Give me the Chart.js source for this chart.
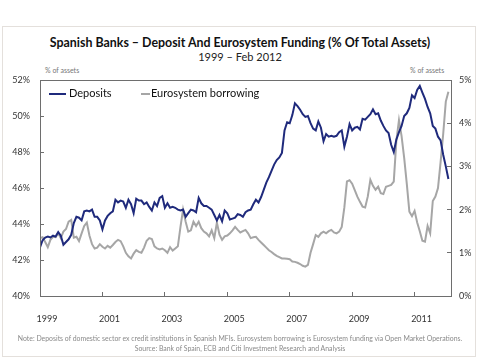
<!DOCTYPE html>
<html>
<head>
<meta charset="utf-8">
<script src="https://cdn.jsdelivr.net/npm/chart.js@4"></script>
<style>
  body { margin: 0; width: 480px; height: 360px; background: #fff; font-family: Lato, "Open Sans", sans-serif; position: relative; overflow: hidden; }
  .panel { position: absolute; left: 2px; top: 26px; width: 474px; height: 331px; border: 1px solid #e4e0dc; box-sizing: border-box; }
  .txt { position: absolute; white-space: nowrap; }
  #title { left: 0; width: 480px; top: 35px; text-align: center; font-weight: bold; font-size: 12.4px; color: #111; }
  #subtitle { left: 0; width: 480px; top: 50px; text-align: center; font-size: 11px; color: #222; }
  .unit { top: 66px; font-size: 7px; color: #777; }
  .legend { top: 86px; font-size: 11px; color: #111; }
  .key { position: absolute; height: 2px; top: 93px; }
  .note { left: 0; width: 480px; text-align: center; font-size: 6.9px; color: #8a8a8a; }
  #wrap { position: absolute; left: 0; top: 0; width: 480px; height: 360px; }
</style>
</head>
<body>
<div class="panel"></div>
<div class="txt" id="title">Spanish Banks – Deposit And Eurosystem Funding (% Of Total Assets)</div>
<div class="txt" id="subtitle">1999 – Feb 2012</div>
<div class="txt unit" style="left:45px">% of assets</div>
<div class="txt unit" style="left:410px">% of assets</div>
<div id="wrap"><canvas id="chart" width="480" height="360"></canvas></div>
<div class="key" style="left:49px;width:17px;background:#1f2a7c"></div>
<div class="txt legend" style="left:69px">Deposits</div>
<div class="key" style="left:141px;width:9px;background:#a6a6a6"></div>
<div class="txt legend" style="left:151px">Eurosystem borrowing</div>
<div class="txt note" style="top:334px">Note: Deposits of domestic sector ex credit institutions in Spanish MFIs. Eurosystem borrowing is Eurosystem funding via Open Market Operations.</div>
<div class="txt note" style="top:344px">Source: Bank of Spain, ECB and Citi Investment Research and Analysis</div>
<script>
// monthly, Jan 1999 .. Feb 2012
const startYear = 1999;
const yearTicks = [1999, 2001, 2003, 2005, 2007, 2009, 2011];
const depositTicks = [40, 42, 44, 46, 48, 50, 52];
const borrowTicks = [0, 1, 2, 3, 4, 5];

// Deposits, % of assets (left axis)
const deposits = [
  42.7, 43.1, 43.25, 43.3, 43.25, 43.35, 43.3, 43.55, 43.35, 42.85, 43.0, 43.15,
  43.4, 44.05, 44.4, 44.35, 44.2, 44.7, 44.75, 44.7, 44.8, 44.4, 44.4, 44.2,
  43.7, 44.2, 44.45, 44.6, 44.7, 45.35, 45.2, 45.3, 45.25, 44.9, 45.35, 45.1,
  44.6, 45.4, 45.3, 45.3, 45.1, 45.2, 44.95, 44.75, 45.2, 45.0, 45.45, 45.55,
  44.9, 45.15, 44.9, 44.95, 44.9, 44.8, 44.75, 44.8, 44.4, 44.6, 44.8, 44.75,
  44.65, 45.45, 45.15, 45.0, 45.0, 44.9, 44.8, 44.5, 44.2, 44.5, 44.15, 44.75,
  44.6, 44.25, 44.3, 44.35, 44.55, 44.5, 44.4, 44.65, 44.75, 44.8, 45.1, 45.35,
  45.2, 45.5, 45.9, 46.3, 46.6, 46.95, 47.3, 47.55, 47.7, 47.95, 49.2, 49.65,
  49.6, 50.05, 50.7, 50.55, 50.35, 50.1, 49.95, 50.0, 49.6, 49.3, 49.2, 49.7,
  49.35, 48.6, 49.0, 48.85, 48.9, 48.85, 48.9, 49.1, 49.2, 48.3, 48.85, 49.55,
  49.2, 49.35, 49.4, 49.25, 49.85, 49.8, 49.95, 50.1, 50.37, 50.1, 50.15, 49.75,
  49.45, 49.2, 49.05, 48.4, 48.0, 48.7, 49.1, 49.45, 50.0, 50.15, 50.45, 51.15,
  51.0, 51.45, 51.67, 51.3, 50.95, 50.5, 50.15, 49.45, 49.3, 48.85, 48.65, 47.85,
  47.2, 46.5
];

// Eurosystem borrowing, % of assets (right axis)
const borrowing = [
  1.34, 1.36, 1.25, 1.13, 1.3, 1.37, 1.36, 1.45, 1.34, 1.49, 1.55, 1.72,
  1.76, 1.35, 1.37, 1.27, 1.45, 1.62, 1.7, 1.4, 1.2, 1.1, 1.12, 1.2,
  1.14, 1.1, 1.16, 1.12, 1.18, 1.25, 1.3, 1.27, 1.15, 1.0, 0.92, 0.87,
  0.98, 1.06, 1.02, 1.0, 1.12, 1.28, 1.34, 1.32, 1.15, 1.1, 1.08, 1.1,
  1.06, 1.0, 1.13, 1.05, 1.1, 1.15, 1.6, 2.0, 1.72, 1.49, 1.52, 1.72,
  1.62, 1.72, 1.57, 1.49, 1.45, 1.38, 1.52, 1.34, 1.7, 1.42, 1.3, 1.38,
  1.4, 1.45, 1.52, 1.6, 1.53, 1.47, 1.5, 1.53, 1.45, 1.34, 1.36, 1.37,
  1.3, 1.24, 1.18, 1.12, 1.06, 1.02, 0.97, 0.93, 0.9, 0.87, 0.87, 0.86,
  0.85, 0.8, 0.79, 0.77, 0.74, 0.7, 0.68, 0.72, 1.0, 1.2, 1.41, 1.37,
  1.45, 1.49, 1.45, 1.5, 1.53, 1.47, 1.45, 1.49, 1.6, 2.05, 2.65, 2.68,
  2.6, 2.45, 2.3, 2.18, 2.07, 2.05, 2.3, 2.69, 2.55, 2.46, 2.53, 2.38,
  2.36, 2.53, 2.55, 2.57, 2.65, 3.6, 4.07, 3.7, 3.2, 2.6, 1.95, 1.85,
  1.97, 1.7, 1.5, 1.28, 1.26, 1.62, 1.45, 2.2, 2.3, 2.5, 3.1, 3.75,
  4.5, 4.73
];

const toPoints = arr => arr.map((v, i) => ({ x: startYear + i / 12, y: v }));

const frame = {
  id: 'frame',
  afterDraw(chart) {
    const { ctx, chartArea: a } = chart;
    ctx.save();
    ctx.strokeStyle = '#6e6e6e';
    ctx.lineWidth = 1;
    ctx.strokeRect(Math.round(a.left) + 0.5, Math.round(a.top) + 0.5, Math.round(a.right - a.left), Math.round(a.bottom - a.top));
    ctx.restore();
  }
};

const tickGrid = { display: true, drawOnChartArea: false, drawTicks: true, tickLength: -4, color: '#6e6e6e' };
const tickFont = { family: 'Lato, "Open Sans", sans-serif', size: 9 };

new Chart(document.getElementById('chart'), {
  type: 'line',
  data: {
    datasets: [
      { label: 'Deposits', data: toPoints(deposits), yAxisID: 'y', borderColor: '#1f2a7c', borderWidth: 2, pointRadius: 0, tension: 0 },
      { label: 'Eurosystem borrowing', data: toPoints(borrowing), yAxisID: 'y1', borderColor: '#a6a6a6', borderWidth: 2, pointRadius: 0, tension: 0 }
    ]
  },
  options: {
    responsive: false,
    animation: false,
    layout: { padding: { top: 80, left: 0, right: 0, bottom: 0 } },
    plugins: { legend: { display: false }, tooltip: { enabled: false } },
    scales: {
      x: {
        type: 'linear', min: startYear, max: startYear + deposits.length / 12,
        afterBuildTicks: s => { s.ticks = yearTicks.map(v => ({ value: v })); },
        afterFit: s => { s.height = 64; },
        grid: tickGrid, border: { display: false },
        ticks: { padding: 22, labelOffset: 7, color: '#333', font: tickFont, callback: v => String(v) }
      },
      y: {
        position: 'left', min: 40, max: 52,
        afterBuildTicks: s => { s.ticks = depositTicks.map(v => ({ value: v })); },
        afterFit: s => { s.width = 40; },
        grid: tickGrid, border: { display: false },
        ticks: { padding: 14, color: '#333', font: tickFont, callback: v => v + '%' }
      },
      y1: {
        position: 'right', min: 0, max: 5,
        afterBuildTicks: s => { s.ticks = borrowTicks.map(v => ({ value: v })); },
        afterFit: s => { s.width = 29; },
        grid: tickGrid, border: { display: false },
        ticks: { padding: 12, color: '#333', font: tickFont, callback: v => v + '%' }
      }
    }
  },
  plugins: [frame]
});
</script>
</body>
</html>
